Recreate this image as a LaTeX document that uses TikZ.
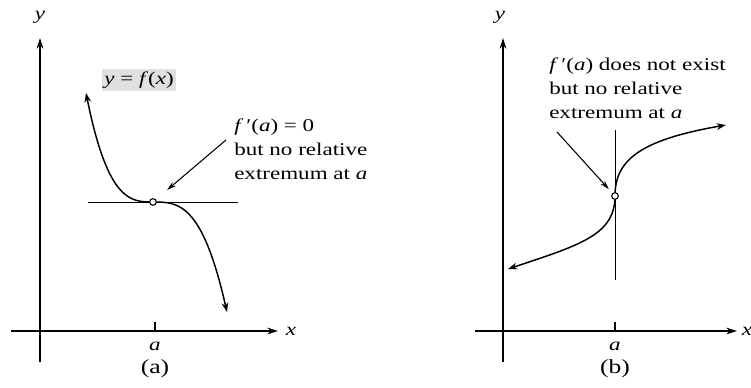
\documentclass[tikz,border=0pt]{standalone}
\usepackage{fontspec}
\setmainfont{Liberation Serif}[FakeStretch=1.28]
\usetikzlibrary{arrows.meta}

\tikzset{
  axis/.style={line width=1pt, -{Stealth[length=8pt,width=5pt]}},
  graph/.style={line width=1.1pt, {Stealth[open,length=7pt,width=5pt]}-{Stealth[open,length=7pt,width=5pt]}},
  pointer/.style={line width=0.8pt, -{Stealth[length=7pt,width=4pt]}},
  dot/.style={circle, draw, fill=white, line width=0.8pt, inner sep=0pt, minimum size=5pt},
  note/.style={align=left, anchor=north west, inner sep=0pt, font=\fontsize{13.5}{17.8}\selectfont},
  lbl/.style={inner sep=0pt, font=\fontsize{13.5}{15}\selectfont},
  caption/.style={inner sep=0pt, font=\fontsize{15}{17}\selectfont}
}

\begin{document}
\begin{tikzpicture}[x=0.75pt, y=-0.75pt]
        \useasboundingbox (0,0) rectangle (751,388);

        % Оси (а)
        \node[lbl] (yA) at (40,17) {\textit{y}};
        \node[lbl] (xA) at (291,331) {\textit{x}};
        \coordinate (yA0) at (40,362); \coordinate (yA1) at (40,38);
        \coordinate (xA0) at (11,331); \coordinate (xA1) at (278,331);
        \draw[axis] (yA0) -- (yA1);
        \draw[axis] (xA0) -- (xA1);
        \draw[line width=0.9pt] (155,322) -- (155,331);
        \node[lbl] (aA) at (155,346) {\textit{a}};
        \node[caption] (capA) at (155,369) {(a)};

        % Касательная и кривая (а)
        \draw[line width=0.7pt] (88,202) -- (238,202);
        \draw[graph] (86,93) .. controls (108,202) and (131,202) .. (153,202)
                     .. controls (178,202) and (202,202) .. (227,312);
        \node[dot] (ptA) at (153,202) {};
        \node[lbl, fill=black!12, inner sep=2pt] (fA) at (139,80) {\textit{y} = \textit{f}(\textit{x})};

        % Подпись и стрелка (а)
        \node[note] (noteA) at (234,119) {\textit{f}\,′(\textit{a}) = 0\\but no relative\\extremum at \textit{a}};
        \coordinate (tailA) at (226,140);
        \draw[pointer, shorten >=11pt] (tailA) -- (ptA);

        % Оси (б)
        \node[lbl] (yB) at (500,17) {\textit{y}};
        \node[lbl] (xB) at (747,331) {\textit{x}};
        \coordinate (yB0) at (503,362); \coordinate (yB1) at (503,38);
        \coordinate (xB0) at (475,331); \coordinate (xB1) at (737,331);
        \draw[axis] (yB0) -- (yB1);
        \draw[axis] (xB0) -- (xB1);
        \draw[line width=0.9pt] (615,322) -- (615,331);
        \node[lbl] (aB) at (615,346) {\textit{a}};
        \node[caption] (capB) at (615,369) {(b)};

        % Вертикальная касательная и кривая (б)
        \draw[line width=0.7pt] (615,130) -- (615,280);
        \draw[graph] (508,269) .. controls (580,245) and (615,235) .. (615,196)
                     .. controls (615,160) and (640,140) .. (726,125);
        \node[dot] (ptB) at (615,196) {};

        % Подпись и стрелка (б)
        \node[note] (noteB) at (549,58) {\textit{f}\,′(\textit{a}) does not exist\\but no relative\\extremum at \textit{a}};
        \coordinate (tailB) at (557,132);
        \draw[pointer, shorten >=4pt] (tailB) -- (ptB);

\end{tikzpicture}
\end{document}
